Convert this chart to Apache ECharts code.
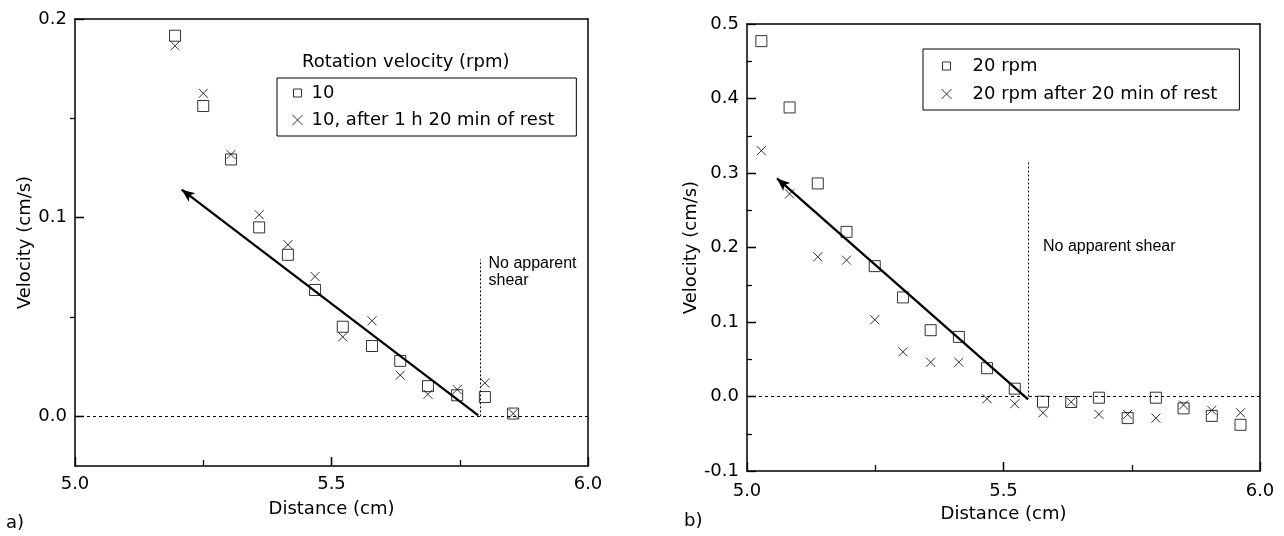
<!DOCTYPE html>
<html><head><meta charset="utf-8">
<script src="https://cdn.jsdelivr.net/npm/echarts@6/dist/echarts.min.js"></script>
<style>html,body{margin:0;padding:0;background:#fff}#c{width:1284px;height:536px}</style>
</head><body><div id="c"></div>
<script>
// ---------- data ----------
const xTickLabels = ['5.0', '5.5', '6.0'];
const leftYTickLabels = ['0.0', '0.1', '0.2'];
const leftYMinor = [0.05, 0.15];
const rightYTickLabels = ['-0.1', '0.0', '0.1', '0.2', '0.3', '0.4', '0.5'];

// panel a
const distA = [5.195, 5.250, 5.304, 5.359, 5.415, 5.468, 5.522, 5.579, 5.634, 5.688, 5.745, 5.799, 5.854];
const vel10 = [0.1916, 0.1562, 0.1293, 0.0951, 0.0813, 0.0636, 0.0451, 0.0354, 0.0279, 0.0152, 0.0106, 0.0097, 0.0014];
const vel10Rest = [0.1865, 0.1626, 0.1318, 0.1015, 0.0864, 0.0704, 0.0400, 0.0481, 0.0207, 0.0111, 0.0135, 0.0168, 0.0014];
const fitA = [[5.208, 0.1141], [5.786, 0.0005]];
const shearLimitA = [[5.789, 0.0], [5.789, 0.079]];
const noteA = [5.806, 0.0727];

// panel b
const distB = [5.028, 5.083, 5.138, 5.194, 5.249, 5.304, 5.358, 5.413, 5.468, 5.522, 5.577, 5.632, 5.686, 5.742, 5.797, 5.851, 5.906, 5.962];
const vel20 = [0.477, 0.388, 0.286, 0.221, 0.175, 0.133, 0.089, 0.080, 0.038, 0.0105, -0.007, -0.0074, -0.0016, -0.029, -0.0016, -0.0159, -0.026, -0.038];
const vel20Rest = [0.330, 0.272, 0.1875, 0.183, 0.103, 0.060, 0.046, 0.046, -0.003, -0.0097, -0.0218, -0.0074, -0.024, -0.024, -0.029, -0.0114, -0.0185, -0.0218];
const fitB = [[5.0585, 0.2927], [5.548, -0.004]];
const shearLimitB = [[5.549, 0.0], [5.549, 0.314]];
const noteB = [5.577, 0.201];

const seriesNames = ['10', '10, after 1 h 20 min of rest', '20 rpm', '20 rpm after 20 min of rest'];

// ---------- style ----------
const FONT = 'DejaVu Sans';
const SQ = 'rect';
const CROSS = 'path://M0,0L10,10M10,0L0,10';
const LEG_SQ = 'path://M0,0M12,12M2,2L10,2L10,10L2,10Z';
const LEG_CROSS = 'path://M0,0M12,12M1,1L11,11M11,1L1,11';
const hollow = {color: 'rgba(0,0,0,0)', borderColor: '#000', borderWidth: 1};
const txt = {fontFamily: FONT, fontSize: 18, color: '#000'};
const tickLine = {color: '#000', width: 1.3};
const axisLn = {show: true, onZero: false, lineStyle: {color: '#000', width: 1.5}};
const XR = [5, 6], YRA = [-0.025, 0.2], YRB = [-0.1, 0.5];
const GRID_W = 513, GRID_H = 447, MAJOR_LEN = 9;

function zip(a, b) { return a.map((v, i) => [v, b[i]]); }
const numVals = labels => labels.map(Number);

function mainX(g, nameGap, margin) {
  return {type: 'value', gridIndex: g, min: XR[0], max: XR[1], interval: 0.5, position: 'bottom', z: 5,
    name: 'Distance (cm)', nameLocation: 'middle', nameGap: nameGap, nameTextStyle: txt,
    axisLine: axisLn,
    axisTick: {show: true, inside: true, length: MAJOR_LEN, lineStyle: tickLine},
    minorTick: {show: true, splitNumber: 2, length: 6, lineStyle: tickLine},
    axisLabel: {show: true, customValues: numVals(xTickLabels), formatter: v => v.toFixed(1), margin: margin, ...txt},
    splitLine: {show: false}, minorSplitLine: {show: false}};
}
function leftY(nameGap) {
  return {type: 'value', gridIndex: 0, min: YRA[0], max: YRA[1], position: 'left', z: 5,
    name: 'Velocity (cm/s)', nameLocation: 'middle', nameGap: nameGap, nameTextStyle: txt,
    axisLine: axisLn,
    axisTick: {show: true, inside: true, length: MAJOR_LEN, customValues: numVals(leftYTickLabels), lineStyle: tickLine},
    axisLabel: {show: true, customValues: numVals(leftYTickLabels), formatter: v => v.toFixed(1), margin: 8, ...txt},
    splitLine: {show: false}};
}
function rightY(nameGap) {
  return {type: 'value', gridIndex: 1, min: YRB[0], max: YRB[1], interval: 0.1, position: 'left', z: 5,
    name: 'Velocity (cm/s)', nameLocation: 'middle', nameGap: nameGap, nameTextStyle: txt,
    axisLine: axisLn,
    axisTick: {show: true, inside: true, length: MAJOR_LEN, lineStyle: tickLine},
    minorTick: {show: true, splitNumber: 2, length: 5, lineStyle: tickLine},
    axisLabel: {show: true, customValues: numVals(rightYTickLabels), formatter: v => v.toFixed(1), margin: 8, ...txt},
    splitLine: {show: false}, minorSplitLine: {show: false}};
}
function tickAxis(g, range, vals, pos, len, inside) {
  return {type: 'value', gridIndex: g, min: range[0], max: range[1], position: pos,
    axisLine: {show: false, onZero: false},
    axisTick: {show: true, inside: inside, length: len, customValues: vals, lineStyle: tickLine},
    axisLabel: {show: false}, splitLine: {show: false}};
}
function frameAxis(g, range, pos) {
  return {type: 'value', gridIndex: g, min: range[0], max: range[1], position: pos,
    axisLine: axisLn, axisTick: {show: false}, axisLabel: {show: false}, splitLine: {show: false}};
}
function guideLines(fit, limit) {
  return {silent: true, animation: false, symbol: ['none', 'none'], label: {show: false},
    emphasis: {disabled: true},
    data: [
      {yAxis: 0, lineStyle: {color: '#000', width: 1, type: [3, 3]}},
      [{coord: fit[0], symbol: 'arrow', symbolSize: [8, 13]}, {coord: fit[1], symbol: 'none', lineStyle: {color: '#000', width: 2.3, type: 'solid'}}],
      [{coord: limit[0]}, {coord: limit[1], lineStyle: {color: '#000', width: 1, type: [2, 2]}}]
    ]};
}
// major tick marks at the labelled values, placed in data space on the axis lines
function majorTickMarks(yRange, yVals) {
  const dy = MAJOR_LEN * (yRange[1] - yRange[0]) / GRID_H;
  const dx = MAJOR_LEN * (XR[1] - XR[0]) / GRID_W;
  const xs = numVals(xTickLabels).filter(v => v > XR[0] && v < XR[1]);
  const ys = yVals.filter(v => v > yRange[0] && v < yRange[1]);
  const ls = {color: '#000', width: 1.3, type: 'solid'};
  const data = [];
  xs.forEach(v => data.push([{coord: [v, yRange[0]]}, {coord: [v, yRange[0] + dy], lineStyle: ls}]));
  ys.forEach(v => data.push([{coord: [XR[0], v]}, {coord: [XR[0] + dx, v], lineStyle: ls}]));
  return {silent: true, animation: false, symbol: ['none', 'none'], label: {show: false},
    emphasis: {disabled: true}, data: data};
}

const chart = echarts.init(document.getElementById('c'), null, {renderer: 'canvas'});
const option = {
  animation: false,
  backgroundColor: '#fff',
  grid: [
    {left: 75, top: 19, width: GRID_W, height: GRID_H, show: false, containLabel: false},
    {left: 747, top: 24, width: GRID_W, height: GRID_H, show: false, containLabel: false}
  ],
  xAxis: [mainX(0, 34, 9), mainX(1, 31, 11), frameAxis(0, XR, 'top'), frameAxis(1, XR, 'top')],
  yAxis: [
    leftY(32),
    rightY(46),
    tickAxis(0, YRA, leftYMinor, 'left', 5, false),
    frameAxis(0, YRA, 'right'),
    frameAxis(1, YRB, 'right')
  ],
  legend: [
    {left: 277, top: 78, orient: 'vertical', selectedMode: false,
      borderColor: '#000', borderWidth: 1, padding: [5, 22, 6, 14],
      itemWidth: 12, itemHeight: 12, itemGap: 7,
      itemStyle: hollow,
      textStyle: {...txt, lineHeight: 20, padding: [0, 0, 0, 3]},
      data: [{name: seriesNames[0], icon: LEG_SQ}, {name: seriesNames[1], icon: LEG_CROSS}]},
    {left: 923, top: 49, orient: 'vertical', selectedMode: false,
      borderColor: '#000', borderWidth: 1, padding: [7, 22, 6, 17],
      itemWidth: 12, itemHeight: 12, itemGap: 8,
      itemStyle: hollow,
      textStyle: {...txt, lineHeight: 20, padding: [0, 0, 0, 15]},
      data: [{name: seriesNames[2], icon: LEG_SQ}, {name: seriesNames[3], icon: LEG_CROSS}]}
  ],
  series: [
    {name: seriesNames[0], type: 'scatter', xAxisIndex: 0, yAxisIndex: 0, data: zip(distA, vel10),
      symbol: SQ, symbolSize: 11, itemStyle: hollow, z: 3, markLine: guideLines(fitA, shearLimitA)},
    {name: seriesNames[1], type: 'scatter', xAxisIndex: 0, yAxisIndex: 0, data: zip(distA, vel10Rest),
      symbol: CROSS, symbolSize: 9, itemStyle: hollow, z: 3,
      markLine: majorTickMarks(YRA, numVals(leftYTickLabels))},
    {name: seriesNames[2], type: 'scatter', xAxisIndex: 1, yAxisIndex: 1, data: zip(distB, vel20),
      symbol: SQ, symbolSize: 11, itemStyle: hollow, z: 3, markLine: guideLines(fitB, shearLimitB)},
    {name: seriesNames[3], type: 'scatter', xAxisIndex: 1, yAxisIndex: 1, data: zip(distB, vel20Rest),
      symbol: CROSS, symbolSize: 9, itemStyle: hollow, z: 3,
      markLine: majorTickMarks(YRB, numVals(rightYTickLabels))}
  ]
};
chart.setOption(option);

const pA = chart.convertToPixel({gridIndex: 0}, noteA);
const pB = chart.convertToPixel({gridIndex: 1}, noteB);
chart.setOption({
  graphic: [
    {type: 'text', left: 302, top: 53, style: {text: 'Rotation velocity (rpm)', font: '18px "DejaVu Sans"', fill: '#000'}},
    {type: 'text', left: 6, top: 514, style: {text: 'a)', font: '18px "DejaVu Sans"', fill: '#000'}},
    {type: 'text', left: 684, top: 512, style: {text: 'b)', font: '18px "DejaVu Sans"', fill: '#000'}},
    {type: 'text', x: pA[0], y: pA[1], style: {text: 'No apparent\nshear', font: '16px "Liberation Sans"', lineHeight: 17, fill: '#000', verticalAlign: 'middle', align: 'left'}},
    {type: 'text', x: pB[0], y: pB[1], style: {text: 'No apparent shear', font: '16px "Liberation Sans"', fill: '#000', verticalAlign: 'middle', align: 'left'}}
  ]
});
</script></body></html>
